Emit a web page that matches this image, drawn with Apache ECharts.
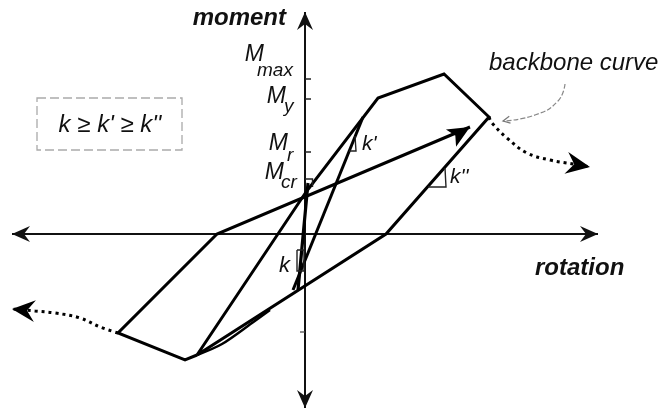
<!DOCTYPE html>
<html>
<head>
<meta charset="utf-8">
<script src="https://cdn.jsdelivr.net/npm/echarts@6/dist/echarts.min.js"></script>
<style>
  html, body { margin: 0; padding: 0; background: #fff; }
  #chart { width: 663px; height: 411px; }
</style>
</head>
<body>
<div id="chart"></div>
<script>
// Hysteretic moment–rotation model (rotation / moment in arbitrary units).

// Diagram axes (drawn as arrows through the origin)
const rotationAxis = [[-29.3, 0], [29.3, 0]];
const momentAxis = [[0, -17.4], [0, 22.2]];

// Initial (uncracked) branch with stiffness k
const initialBranch = [[-0.7, -5.6], [0.3, 5.1]];

// Positive excursion: cracking -> yield -> max -> degrade, unload with k'' and reload to negative peak
const positiveLoop = [[-10.8, -12.1], [0.1, 4.2], [7.3, 13.6], [13.9, 16.0], [18.4, 11.7], [8.1, 0], [-10.8, -12.1]];

// Negative excursion and reloading branch towards positive side
const negativeLoop = [[-10.8, -12.1], [-12.0, -12.6], [-18.7, -9.9], [-8.8, 0], [16.5, 10.7]];

// Unloading from the yield branch with stiffness k'
const unloadingBranch = [[5.8, 11.7], [-1.2, -5.6]];

// Small inner reloading branch near the negative peak
const innerBranch = [[-10.8, -12.1], [-8.3, -11.0], [-5.3, -8.9], [-3.5, -7.6]];

// Backbone continuation (dotted) beyond the last peaks
const backboneRight = [[18.4, 11.7], [18.7, 11.1], [20.2, 9.6], [22.2, 8.1], [24.5, 7.4], [26.8, 7.0], [28.5, 6.7]];
const backboneLeft = [[-18.7, -9.9], [-20.5, -9.3], [-22.5, -8.4], [-25.0, -7.9], [-27.0, -7.7], [-29.3, -7.5]];

// Leader from the "backbone curve" note
const leaderCurve = [[26.0, 15.0], [25.3, 13.3], [23.0, 11.9], [19.8, 11.3]];

// Moment levels marked on the moment axis
const levelValues = [15.5, 13.5, 8.2, 5.0];
const levelNames = [['M', 'max'], ['M', 'y'], ['M', 'r'], ['M', 'cr']];
const negativeTicks = [-9.8];

// Stiffness slope markers
const markK1 = [[5.0, 9.8], [5.1, 8.3], [4.4, 8.3]];
const markK2 = [[14.0, 6.6], [14.1, 4.7], [12.3, 4.7]];
const markCr = [[0, 5.5], [0.75, 5.5], [0.75, 4.7]];
const markK = [[-0.8, -1.6], [-0.1, -1.6], [-0.1, -3.7], [-0.8, -3.7], [-0.8, -1.6]];

const stiffnessNote = "k \u2265 k' \u2265 k''";

const FONT = '"Liberation Sans", Arial, Helvetica, sans-serif';

function lineSeries(data, opts) {
  return Object.assign({
    type: 'line',
    data: data,
    symbol: 'none',
    showSymbol: false,
    silent: true,
    animation: false,
    clip: false,
    lineStyle: { color: '#000', width: 3, join: 'miter', cap: 'butt' },
    z: 3
  }, opts || {});
}

const chart = echarts.init(document.getElementById('chart'), null, { renderer: 'canvas' });

function arrowHead(api, tip, from, L, W, notch, color) {
  const t = api.coord(tip), f = api.coord(from);
  let dx = t[0] - f[0], dy = t[1] - f[1];
  const len = Math.hypot(dx, dy); dx /= len; dy /= len;
  const nx = -dy, ny = dx;
  const bx = t[0] - L * dx, by = t[1] - L * dy;
  return {
    type: 'polygon',
    shape: { points: [t, [bx + W * nx, by + W * ny], [t[0] - (L - notch) * dx, t[1] - (L - notch) * dy], [bx - W * nx, by - W * ny]] },
    style: { fill: color || '#000', stroke: null }
  };
}

function textEl(api, pos, text, font, align, baselineOffset, dx, dy) {
  const p = api.coord(pos);
  return {
    type: 'text',
    x: p[0] + (dx || 0),
    y: p[1] + (dy || 0) - baselineOffset,
    style: {
      text: text, font: font, fill: '#111',
      align: align, textAlign: align,
      verticalAlign: 'middle', textVerticalAlign: 'middle'
    }
  };
}

function renderDecor(params, api) {
  const kids = [];
  // axis arrowheads
  kids.push(arrowHead(api, rotationAxis[1], rotationAxis[0], 18, 8, 6, '#111'));
  kids.push(arrowHead(api, rotationAxis[0], rotationAxis[1], 18, 8, 6, '#111'));
  kids.push(arrowHead(api, momentAxis[1], momentAxis[0], 18, 8, 6, '#111'));
  kids.push(arrowHead(api, momentAxis[0], momentAxis[1], 18, 8, 6, '#111'));
  // reloading arrow
  const n = negativeLoop.length;
  kids.push(arrowHead(api, negativeLoop[n - 1], negativeLoop[n - 3], 22, 10, 5));
  // backbone continuation arrows
  kids.push(arrowHead(api, backboneRight[backboneRight.length - 1], backboneRight[backboneRight.length - 3], 24, 11, 8));
  kids.push(arrowHead(api, backboneLeft[backboneLeft.length - 1], backboneLeft[backboneLeft.length - 3], 23, 11, 8));
  // leader arrow (open)
  {
    const t = api.coord(leaderCurve[leaderCurve.length - 1]);
    const f = api.coord(leaderCurve[leaderCurve.length - 2]);
    let dx = t[0] - f[0], dy = t[1] - f[1];
    const len = Math.hypot(dx, dy); dx /= len; dy /= len;
    const nx = -dy, ny = dx, L = 7, W = 3.5;
    kids.push({
      type: 'polyline',
      shape: { points: [[t[0] - L * dx + W * nx, t[1] - L * dy + W * ny], t, [t[0] - L * dx - W * nx, t[1] - L * dy - W * ny]] },
      style: { stroke: '#777', lineWidth: 1.2, fill: null }
    });
  }
  // ticks on the moment axis
  levelValues.slice(0, 3).forEach(function (v) {
    const p = api.coord([0, v]);
    kids.push({ type: 'line', shape: { x1: p[0], y1: p[1], x2: p[0] + 6, y2: p[1] }, style: { stroke: '#222', lineWidth: 1.5 } });
  });
  negativeTicks.forEach(function (v) {
    const p = api.coord([0, v]);
    kids.push({ type: 'line', shape: { x1: p[0] - 5, y1: p[1], x2: p[0], y2: p[1] }, style: { stroke: '#444', lineWidth: 1.2 } });
  });
  // stiffness markers
  [markK1, markK2, markCr, markK].forEach(function (m) {
    kids.push({ type: 'polyline', shape: { points: m.map(function (q) { return api.coord(q); }) }, style: { stroke: '#222', lineWidth: 1.4, fill: null } });
  });
  // note box
  {
    const a = api.coord([-26.8, 13.6]), b = api.coord([-12.3, 8.4]);
    kids.push({ type: 'rect', shape: { x: a[0], y: a[1], width: b[0] - a[0], height: b[1] - a[1] },
      style: { fill: null, stroke: '#aaa', lineWidth: 1.3, lineDash: [9, 4] } });
  }
  // texts
  const bi = 'italic bold 24px ' + FONT;
  const it = function (s) { return 'italic ' + s + 'px ' + FONT; };
  kids.push(textEl(api, momentAxis[1], 'moment', bi, 'right', 8, -19, 14));
  kids.push(textEl(api, rotationAxis[1], 'rotation', bi, 'left', 8, -63, 42));
  const lvl = [
    { m: [-41, -16], s: [-48, -2] },
    { m: [-19, 6], s: [-21, 14] },
    { m: [-17, 0], s: [-18, 10] },
    { m: [-21, -3], s: [-24, 5] }
  ];
  levelNames.forEach(function (nm, i) {
    kids.push(textEl(api, [0, levelValues[i]], nm[0], it(23), 'right', 8, lvl[i].m[0], lvl[i].m[1]));
    kids.push(textEl(api, [0, levelValues[i]], nm[1], it(19), 'left', 6.5, lvl[i].s[0], lvl[i].s[1]));
  });
  kids.push(textEl(api, [-19.5, 10.1], stiffnessNote, it(24), 'center', 8));
  kids.push(textEl(api, backboneRight[0], 'backbone curve', it(24), 'left', 8, 0, -46));
  kids.push(textEl(api, markK1[1], "k'", it(21), 'left', 7, 6, 0));
  kids.push(textEl(api, markK2[1], "k''", it(21), 'left', 7, 4, -3));
  kids.push(textEl(api, markK[2], 'k', it(22), 'right', 7.5, -14, 2));
  return { type: 'group', children: kids };
}

const option = {
  animation: false,
  backgroundColor: '#fff',
  grid: { left: 0, right: 0, top: 0, bottom: 0, containLabel: false },
  xAxis: { type: 'value', min: -30.5, max: 35.8, show: false },
  yAxis: { type: 'value', min: -17.7, max: 23.4, show: false },
  series: [
    lineSeries(rotationAxis, { lineStyle: { color: '#111', width: 2 }, z: 2 }),
    lineSeries(momentAxis, { lineStyle: { color: '#111', width: 2 }, z: 2 }),
    lineSeries(initialBranch, { lineStyle: { color: '#000', width: 3.2 } }),
    lineSeries(positiveLoop),
    lineSeries(negativeLoop),
    lineSeries(unloadingBranch),
    lineSeries(innerBranch, { smooth: 0.3, lineStyle: { color: '#000', width: 2.5 } }),
    lineSeries(backboneRight, { smooth: 0.4, lineStyle: { color: '#000', width: 3, type: [3, 4] } }),
    lineSeries(backboneLeft, { smooth: 0.4, lineStyle: { color: '#000', width: 3, type: [3, 4] } }),
    lineSeries(leaderCurve, { smooth: 0.5, lineStyle: { color: '#888', width: 1.2, type: [5, 2] } }),
    {
      type: 'custom',
      silent: true,
      animation: false,
      data: [[0, 0]],
      renderItem: renderDecor,
      z: 5
    }
  ]
};
chart.setOption(option);
</script>
</body>
</html>
